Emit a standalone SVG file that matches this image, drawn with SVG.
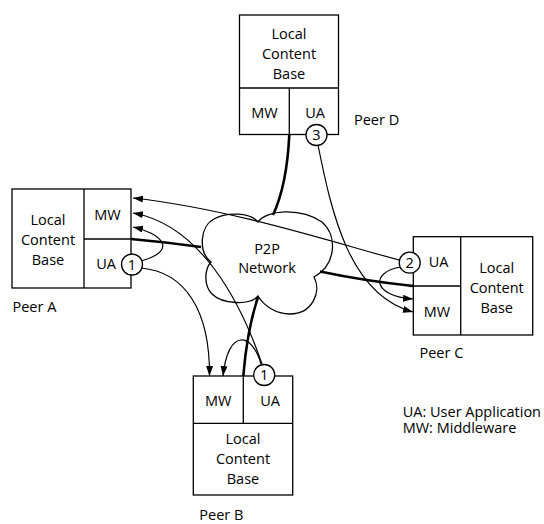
<svg xmlns="http://www.w3.org/2000/svg" width="544" height="524" viewBox="0 0 544 524">
<style>
text{font-family:"Open Sans","Noto Sans","Liberation Sans",sans-serif;font-size:14.5px;fill:#000}
.c{text-anchor:middle}
.box{fill:none;stroke:#000;stroke-width:1.3}
.ln{fill:none;stroke:#000;stroke-width:1.3}
.thin{fill:none;stroke:#000;stroke-width:1.2}
.thick{fill:none;stroke:#000;stroke-width:2.6}
.circ{fill:#fff;stroke:#000;stroke-width:1.3}
</style>
<defs>
<marker id="ah" markerUnits="userSpaceOnUse" markerWidth="11" markerHeight="8" refX="10" refY="3.5" orient="auto">
<path d="M0,0 L10,3.5 L0,7 Z" fill="#000"/>
</marker>
</defs>
<g id="cloud">
<path class="ln" d="M211,262 C198,252 200,226 214,219 C226,212 250,212 258,222 C266,210 300,207 322,222 C338,236 336,265 314,277 C322,292 312,314 290,314 C276,314 264,306 258,296 C250,306 222,304 212,294 C204,286 204,270 211,262 Z"/>
<text class="c" x="267" y="254">P2P</text>
<text class="c" x="267" y="272.7">Network</text>
</g>
<g id="connectors">
<path class="thick" d="M131,239 Q165,242 201,247"/>
<path class="thick" d="M289.3,134.5 Q287,185 273,215"/>
<path class="thick" d="M320,271.5 Q365,281 413.3,286"/>
<path class="thick" d="M243.3,376 Q247,330 258,297"/>
<path class="thin" marker-end="url(#ah)" d="M409.7,262.7 C350,248 240,210 133,198"/>
<path class="thin" marker-end="url(#ah)" d="M262,364 C240,300 200,225 133,213"/>
<path class="thin" marker-end="url(#ah)" d="M141,261 C180,250 160,233 133,227"/>
<path class="thin" marker-end="url(#ah)" d="M141,268 C185,272 210,310 209.5,376"/>
<path class="thin" marker-end="url(#ah)" d="M261,364 C252,332 228,328 223,376"/>
<path class="thin" marker-end="url(#ah)" d="M401,267 C370,272 372,296 413,299"/>
<path class="thin" marker-end="url(#ah)" d="M318,145 C332,215 350,295 413,312"/>
</g>
<g id="peerA">
<rect class="box" x="12" y="189" width="119" height="99"/>
<line class="ln" x1="84" y1="189" x2="84" y2="288"/>
<line class="ln" x1="84" y1="239" x2="131" y2="239"/>
<text class="c" x="48" y="225">Local</text>
<text class="c" x="48" y="245">Content</text>
<text class="c" x="48" y="265">Base</text>
<text class="c" x="107.5" y="220">MW</text>
<text class="c" x="106" y="269.3">UA</text>
<circle class="circ" cx="132" cy="264.5" r="10.5"/>
<text class="c" x="132" y="269.5">1</text>
<text x="12.5" y="311.7">Peer A</text>
</g>
<g id="peerD">
<rect class="box" x="239.5" y="15" width="99" height="119.5"/>
<line class="ln" x1="239.5" y1="88" x2="338.5" y2="88"/>
<line class="ln" x1="289.3" y1="88" x2="289.3" y2="134.5"/>
<text class="c" x="289" y="39.3">Local</text>
<text class="c" x="289" y="59.3">Content</text>
<text class="c" x="289" y="79.3">Base</text>
<text class="c" x="264.5" y="118.3">MW</text>
<text class="c" x="315" y="118.3">UA</text>
<circle class="circ" cx="316.5" cy="135" r="10.5"/>
<text class="c" x="316.5" y="140">3</text>
<text x="354" y="125">Peer D</text>
</g>
<g id="peerC">
<rect class="box" x="413.3" y="236.7" width="119.4" height="98.3"/>
<line class="ln" x1="460.7" y1="236.7" x2="460.7" y2="335"/>
<line class="ln" x1="413.3" y1="286" x2="460.7" y2="286"/>
<text class="c" x="496.7" y="273.3">Local</text>
<text class="c" x="496.7" y="293.3">Content</text>
<text class="c" x="496.7" y="313">Base</text>
<text class="c" x="438.5" y="266.7">UA</text>
<text class="c" x="437" y="316.7">MW</text>
<circle class="circ" cx="409.7" cy="262.7" r="10.5"/>
<text class="c" x="409.7" y="267.7">2</text>
<text x="419.5" y="358">Peer C</text>
</g>
<g id="peerB">
<rect class="box" x="193.3" y="376" width="99.4" height="119"/>
<line class="ln" x1="243.3" y1="376" x2="243.3" y2="423.3"/>
<line class="ln" x1="193.3" y1="423.3" x2="292.7" y2="423.3"/>
<text class="c" x="218.3" y="406">MW</text>
<text class="c" x="270" y="406">UA</text>
<text class="c" x="243" y="444">Local</text>
<text class="c" x="243" y="464">Content</text>
<text class="c" x="243" y="484">Base</text>
<circle class="circ" cx="264.2" cy="375" r="10.5"/>
<text class="c" x="264.2" y="380">1</text>
<text x="199.3" y="519.5">Peer B</text>
</g>
<g id="legend">
<text x="402.7" y="417.3">UA: User Application</text>
<text x="402.7" y="433.3">MW: Middleware</text>
</g>
</svg>
